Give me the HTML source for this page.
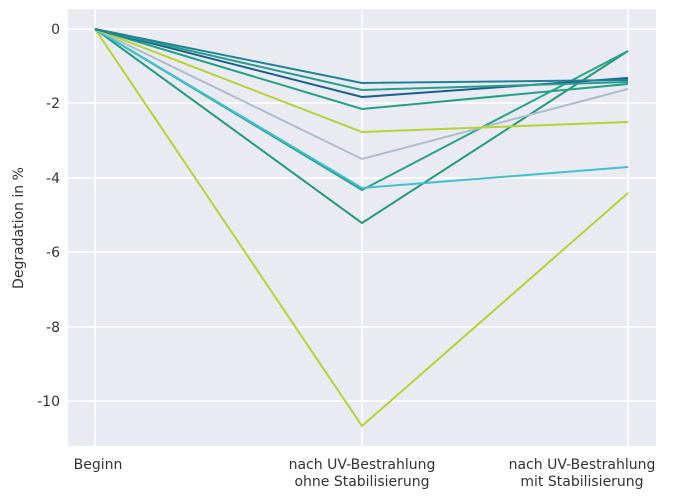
<!DOCTYPE html>
<html><head><meta charset="utf-8"><style>
body{margin:0;background:#fff}
svg{display:block;font-family:"DejaVu Sans","Liberation Sans",sans-serif}
</style></head><body>
<svg width="700" height="500" viewBox="0 0 700 500">
<rect x="68" y="9" width="588" height="437" fill="#e9eaf2"/>
<g stroke="#fff" stroke-width="1.5">
<line x1="68" x2="656" y1="29" y2="29"/><line x1="68" x2="656" y1="103" y2="103"/>
<line x1="68" x2="656" y1="178" y2="178"/><line x1="68" x2="656" y1="252" y2="252"/>
<line x1="68" x2="656" y1="327" y2="327"/><line x1="68" x2="656" y1="401" y2="401"/>
<line x1="95" x2="95" y1="9" y2="446"/><line x1="362" x2="362" y1="9" y2="446"/><line x1="628" x2="628" y1="9" y2="446"/>
</g>
<g fill="none" stroke-width="2" stroke-linejoin="miter">
<polyline points="95,29 362,426 628,193" stroke="#b5d334"/>
<polyline points="95,29 362,223 628,51" stroke="#239a7e"/>
<polyline points="95,29 362,190 628,51" stroke="#2aa38a"/>
<polyline points="95,29 362,188 628,167" stroke="#40c0cc"/>
<polyline points="95,29 362,159 628,89" stroke="#aebdcc"/>
<polyline points="95,29 362,132 628,122" stroke="#b5d334"/>
<polyline points="95,29 362,109 628,84" stroke="#23a084"/>
<polyline points="95,29 362,97 628,78" stroke="#1a5e8c"/>
<polyline points="95,29 362,90 628,82" stroke="#2a9d8f"/>
<polyline points="95,29 362,83 628,80" stroke="#1f8296"/>
</g>
<g font-size="14" fill="#333" text-anchor="end">
<text x="60" y="34">0</text><text x="60" y="108">-2</text><text x="60" y="183">-4</text>
<text x="60" y="257">-6</text><text x="60" y="332">-8</text><text x="60" y="406">-10</text>
</g>
<text transform="translate(23,228) rotate(-90)" text-anchor="middle" font-size="14" fill="#333">Degradation in %</text>
<g font-size="14" fill="#333" text-anchor="middle">
<text x="98" y="469">Beginn</text>
<text x="362" y="469">nach UV-Bestrahlung</text><text x="362" y="486">ohne Stabilisierung</text>
<text x="582" y="469">nach UV-Bestrahlung</text><text x="582" y="486">mit Stabilisierung</text>
</g>
</svg>
</body></html>
